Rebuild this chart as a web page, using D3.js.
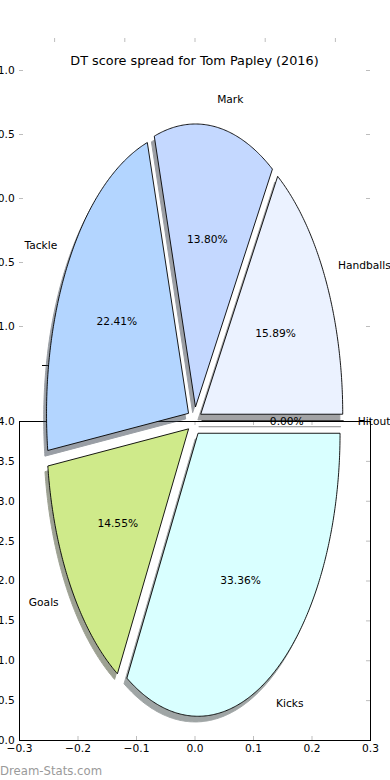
<!DOCTYPE html>
<html>
<head>
<meta charset="utf-8">
<script src="https://cdn.jsdelivr.net/npm/d3@7/dist/d3.min.js"></script>
<style>
  html, body { margin: 0; padding: 0; background: #ffffff; }
  svg { display: block; }
  text { font-family: "DejaVu Sans", sans-serif; }
</style>
</head>
<body>
<svg id="chart" width="390" height="780"></svg>
<script>
// ---------------- data ----------------
const title = "DT score spread for Tom Papley (2016)";
const categories = ["Hitout", "Handballs", "Mark", "Tackle", "Goals", "Kicks"];
const values = [0.00, 15.89, 13.80, 22.41, 14.55, 33.36];
const sliceColors = ["#f0f8ff", "#ebf2ff", "#c4d8ff", "#b3d5ff", "#cfea8a", "#d9ffff"];
const upperXTicks = [-1.0, -0.5, 0.0, 0.5, 1.0];
const upperYTicks = [1.0, 0.5, 0.0, -0.5, -1.0];
const lowerXTicks = [-0.3, -0.2, -0.1, 0.0, 0.1, 0.2, 0.3];
const lowerYTicks = [0.0, 0.5, 1.0, 1.5, 2.0, 2.5, 3.0, 3.5, 4.0];
const watermark = "Dream-Stats.com";

// ---------------- layout ----------------
const FS = 10.67, TFS = 12.8;
const EXPLODE = 0.05, LABELDIST = 1.1, PCTDIST = 0.6, SHADOW = 0.02;
const svg = d3.select("#chart");

const up = { left: 19, right: 370, top: 38, bottom: 358 };
const lo = { left: 19, right: 370, top: 421, bottom: 740 };

const uX = d3.scaleLinear().domain([-1.25, 1.25]).range([up.left, up.right]);
const uY = d3.scaleLinear().domain([-1.25, 1.25]).range([up.bottom, up.top]);
const lX = d3.scaleLinear().domain([-0.3, 0.3]).range([lo.left, lo.right]);
const lY = d3.scaleLinear().domain([0, 4]).range([lo.bottom, lo.top]);

// pie coordinate system (stretched, as in the reference)
const cx = 194.5, cy = 421, Rx = 142, Ry = 283;
const px = d3.scaleLinear().domain([-1, 1]).range([cx - Rx, cx + Rx]);
const py = d3.scaleLinear().domain([-1, 1]).range([cy + Ry, cy - Ry]);

const tickGray = "#bdbdbd";
function styleAxis(g) {
  g.select(".domain").remove();
  g.selectAll(".tick line").attr("stroke", tickGray).attr("stroke-width", 1);
  g.selectAll(".tick text").attr("font-family", "DejaVu Sans").attr("font-size", FS).attr("fill", "#000");
}
const fmt1 = d3.format(".1f");

// ---------------- upper axes (ticks only) ----------------
svg.append("g").attr("transform", `translate(${up.left},0)`)
  .call(d3.axisLeft(uY).tickValues(upperYTicks).tickFormat(fmt1).tickSizeInner(-4).tickSizeOuter(0).tickPadding(4.3))
  .call(styleAxis);
svg.append("g").attr("transform", `translate(${up.right},0)`)
  .call(d3.axisRight(uY).tickValues(upperYTicks).tickFormat("").tickSizeInner(-4).tickSizeOuter(0))
  .call(styleAxis);
svg.append("g").attr("transform", `translate(0,${up.top})`)
  .call(d3.axisTop(uX).tickValues(upperXTicks).tickFormat("").tickSizeInner(-4).tickSizeOuter(0))
  .call(styleAxis);

// stray spine fragment behind the pie
svg.append("line").attr("x1", 42).attr("x2", 49).attr("y1", 365.5).attr("y2", 365.5)
  .attr("stroke", "#000").attr("stroke-width", 1);

// ---------------- lower axes ----------------
svg.append("g").attr("transform", `translate(0,${lo.bottom})`)
  .call(d3.axisBottom(lX).tickValues(lowerXTicks).tickFormat(fmt1).tickSizeInner(-4).tickSizeOuter(0).tickPadding(4.3))
  .call(styleAxis);
svg.append("g").attr("transform", `translate(0,${lo.top})`)
  .call(d3.axisTop(lX).tickValues(lowerXTicks).tickFormat("").tickSizeInner(-4).tickSizeOuter(0))
  .call(styleAxis);
svg.append("g").attr("transform", `translate(${lo.left},0)`)
  .call(d3.axisLeft(lY).tickValues(lowerYTicks).tickFormat(fmt1).tickSizeInner(0).tickSizeOuter(0).tickPadding(4.3))
  .call(styleAxis);
svg.append("g").attr("transform", `translate(${lo.right},0)`)
  .call(d3.axisRight(lY).tickValues(lowerYTicks).tickFormat("").tickSizeInner(-4).tickSizeOuter(0))
  .call(styleAxis);
svg.append("rect")
  .attr("x", lo.left + 0.5).attr("y", lo.top + 0.5)
  .attr("width", lo.right - lo.left).attr("height", lo.bottom - lo.top)
  .attr("fill", "none").attr("stroke", "#000").attr("stroke-width", 1);

// ---------------- pie ----------------
const total = d3.sum(values);
const arcs = d3.pie().sort(null).value(d => d).startAngle(0).endAngle(2 * Math.PI)(values);
const slices = arcs.map((a, i) => {
  const t1 = a.startAngle, t2 = a.endAngle, tm = (t1 + t2) / 2;
  return {
    name: categories[i], value: values[i], color: sliceColors[i],
    t1, t2, tm, ox: EXPLODE * Math.cos(tm), oy: EXPLODE * Math.sin(tm)
  };
});

function wedgePath(s, sx, sy) {
  const p = d3.path();
  const ox = s.ox + sx, oy = s.oy + sy;
  p.moveTo(px(ox), py(oy));
  const n = Math.max(2, Math.ceil((s.t2 - s.t1) / (Math.PI / 360)));
  for (let k = 0; k <= n; k++) {
    const th = s.t1 + (s.t2 - s.t1) * k / n;
    p.lineTo(px(ox + Math.cos(th)), py(oy + Math.sin(th)));
  }
  p.closePath();
  return p.toString();
}

const pieG = svg.append("g");
// shadows
pieG.selectAll("path.shadow").data(slices).join("path")
  .attr("class", "shadow")
  .attr("d", s => wedgePath(s, -SHADOW, -SHADOW))
  .attr("fill", s => { const c = d3.rgb(s.color); return d3.rgb(c.r * 0.3, c.g * 0.3, c.b * 0.3).toString(); })
  .attr("stroke", s => { const c = d3.rgb(s.color); return d3.rgb(c.r * 0.3, c.g * 0.3, c.b * 0.3).toString(); })
  .attr("stroke-width", 1)
  .attr("opacity", 0.5);
// wedges
pieG.selectAll("path.wedge").data(slices).join("path")
  .attr("class", "wedge")
  .attr("d", s => wedgePath(s, 0, 0))
  .attr("fill", s => s.color)
  .attr("stroke", "#000")
  .attr("stroke-width", 0.9)
  .attr("stroke-linejoin", "miter");

// labels
pieG.selectAll("text.lab").data(slices).join("text")
  .attr("class", "lab")
  .attr("x", s => px(s.ox + LABELDIST * Math.cos(s.tm)))
  .attr("y", s => py(s.oy + LABELDIST * Math.sin(s.tm)))
  .attr("dy", "0.36em")
  .attr("text-anchor", s => (s.ox + LABELDIST * Math.cos(s.tm)) > 0 ? "start" : "end")
  .attr("font-size", FS).attr("fill", "#000")
  .text(s => s.name);

const pct = d3.format(".2f");
pieG.selectAll("text.pct").data(slices).join("text")
  .attr("class", "pct")
  .attr("x", s => px(s.ox + PCTDIST * Math.cos(s.tm)))
  .attr("y", s => py(s.oy + PCTDIST * Math.sin(s.tm)))
  .attr("dy", "0.36em")
  .attr("text-anchor", "middle")
  .attr("font-size", FS).attr("fill", "#000")
  .text(s => pct(s.value / total * 100) + "%");

// ---------------- title & watermark ----------------
svg.append("text").attr("x", 194.5).attr("y", 64.5)
  .attr("text-anchor", "middle").attr("font-size", TFS).attr("fill", "#000")
  .text(title);
svg.append("text").attr("x", 0).attr("y", 775)
  .attr("font-size", 11.7).attr("fill", "#9a9a9a")
  .text(watermark);
</script>
</body>
</html>
